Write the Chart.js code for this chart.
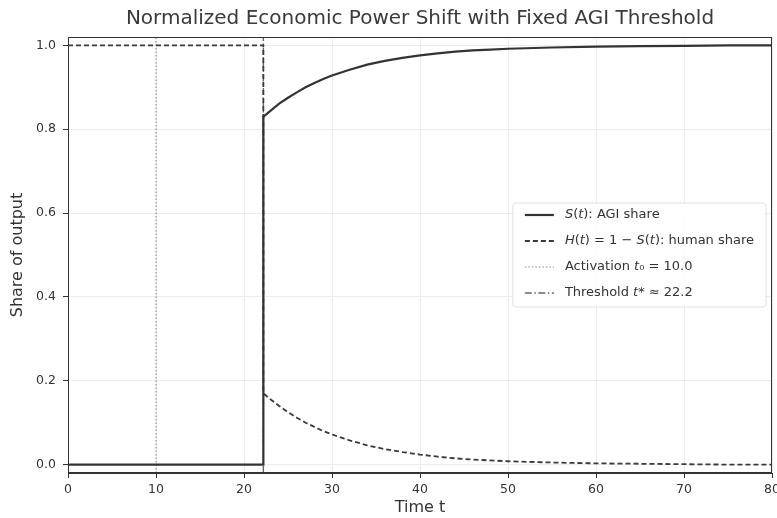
<!DOCTYPE html>
<html><head><meta charset="utf-8">
<script src="https://cdn.jsdelivr.net/npm/chart.js@4.4.0/dist/chart.umd.min.js"></script>
<style>html,body{margin:0;padding:0;background:#fff;}</style>
</head><body>
<canvas id="c" width="777" height="518"></canvas>
<script>
// ---- data ----
const times      = [0, 22.2, 22.2, 23, 24, 25, 26, 27, 28, 29, 30, 32, 34, 36, 38, 40, 42, 44, 46, 48, 50, 55, 60, 65, 70, 75, 80];
const agiShare   = [0, 0, 0.830, 0.844, 0.861, 0.875, 0.888, 0.900, 0.910, 0.920, 0.928, 0.942, 0.954, 0.963, 0.970, 0.976, 0.981, 0.985, 0.988, 0.990, 0.992, 0.995, 0.997, 0.998, 0.999, 1.000, 1.000];
const humanShare = [1, 1, 0.170, 0.156, 0.140, 0.125, 0.112, 0.100, 0.090, 0.080, 0.072, 0.058, 0.046, 0.037, 0.030, 0.024, 0.019, 0.015, 0.012, 0.010, 0.008, 0.005, 0.003, 0.002, 0.001, 0.000, 0.000];
const activationT = 10.0;
const thresholdT  = 22.2;
const xLimits = [0, 80];
const yLimits = [-0.02, 1.02];
const xTicks = [0, 10, 20, 30, 40, 50, 60, 70, 80];
const yTicks = [0.0, 0.2, 0.4, 0.6, 0.8, 1.0];
const seriesLabels = ["S(t): AGI share", "H(t) = 1 \u2212 S(t): human share", "Activation t\u2080 = 10.0", "Threshold t* \u2248 22.2"];
const titleText = "Normalized Economic Power Shift with Fixed AGI Threshold";
const xTitle = "Time t";
const yTitle = "Share of output";

const FONT = "'DejaVu Sans', sans-serif";
const TXT = '#333333';

const pts = (xs, ys) => xs.map((x, i) => ({x: x, y: ys[i]}));

// split text into runs; isolated single letters (math symbols) are italic
function runs(s) {
  const out = [];
  const isL = c => /[A-Za-z]/.test(c || '');
  for (let i = 0; i < s.length; i++) {
    const it = isL(s[i]) && !isL(s[i - 1]) && !isL(s[i + 1]);
    if (out.length && out[out.length - 1].it === it) out[out.length - 1].t += s[i];
    else out.push({t: s[i], it: it});
  }
  return out;
}
function mixedWidth(ctx, s, size) {
  let w = 0;
  runs(s).forEach(r => { ctx.font = (r.it ? 'italic ' : '') + size + 'px ' + FONT; w += ctx.measureText(r.t).width; });
  return w;
}
function drawMixed(ctx, s, x, y, size) {
  runs(s).forEach(r => {
    ctx.font = (r.it ? 'italic ' : '') + size + 'px ' + FONT;
    ctx.fillText(r.t, x, y);
    x += ctx.measureText(r.t).width;
  });
}

const frameLegend = {
  id: 'frameLegend',
  afterDatasetsDraw(chart) {
    const {ctx, chartArea: a} = chart;
    ctx.save();
    ctx.strokeStyle = '#333';
    ctx.lineWidth = 1;
    ctx.strokeRect(Math.round(a.left) + 0.5, Math.round(a.top) + 0.5, Math.round(a.right - a.left) - 1, Math.round(a.bottom - a.top) - 1);
    const size = 13;
    const ds = chart.data.datasets;
    let maxW = 0;
    ds.forEach(d => { maxW = Math.max(maxW, mixedWidth(ctx, d.label, size)); });
    const rowH = 26;
    const boxH = rowH * ds.length;
    const boxR = a.right - 6;
    const boxW = 52 + maxW + 12;
    const boxL = boxR - boxW;
    const boxT = (a.top + a.bottom) / 2 - boxH / 2;
    ctx.fillStyle = 'rgba(255,255,255,0.9)';
    ctx.strokeStyle = '#e0e0e0';
    ctx.beginPath();
    if (ctx.roundRect) ctx.roundRect(boxL, boxT, boxW, boxH, 3); else ctx.rect(boxL, boxT, boxW, boxH);
    ctx.fill(); ctx.stroke();
    ds.forEach((d, i) => {
      const y = boxT + 12 + i * rowH;
      ctx.strokeStyle = d.borderColor;
      ctx.lineWidth = d.borderWidth;
      ctx.setLineDash(d.borderDash || []);
      ctx.beginPath();
      ctx.moveTo(boxL + 12, y); ctx.lineTo(boxL + 41, y);
      ctx.stroke();
      ctx.setLineDash([]);
      ctx.fillStyle = TXT;
      ctx.textBaseline = 'middle';
      ctx.textAlign = 'left';
      drawMixed(ctx, d.label, boxL + 52, y, size);
    });
    ctx.restore();
  }
};

new Chart(document.getElementById('c'), {
  type: 'scatter',
  data: {
    datasets: [
      {label: seriesLabels[0], data: pts(times, agiShare), showLine: true, borderColor: '#333333', borderWidth: 2.2, pointRadius: 0, tension: 0, order: 1},
      {label: seriesLabels[1], data: pts(times, humanShare), showLine: true, borderColor: '#3a3a3a', borderWidth: 1.8, borderDash: [5, 3], pointRadius: 0, tension: 0, order: 2},
      {label: seriesLabels[2], data: pts([activationT, activationT], yLimits), showLine: true, borderColor: '#8a8a8a', borderWidth: 1.1, borderDash: [1.5, 2], pointRadius: 0, order: 3},
      {label: seriesLabels[3], data: pts([thresholdT, thresholdT], yLimits), showLine: true, borderColor: '#666666', borderWidth: 1.4, borderDash: [7, 2.5, 1.5, 2.5], pointRadius: 0, order: 4}
    ]
  },
  options: {
    responsive: false,
    animation: false,
    devicePixelRatio: 1,
    layout: {padding: {left: 0, right: 5, top: 0, bottom: 0}},
    plugins: {
      legend: {display: false},
      tooltip: {enabled: false},
      title: {display: true, fullSize: false, text: titleText, color: '#3a3a3a', font: {family: FONT, size: 20, weight: 'normal'}, padding: {top: 7, bottom: 6}}
    },
    scales: {
      x: {
        type: 'linear', min: xLimits[0], max: xLimits[1],
        afterBuildTicks: s => { s.ticks = xTicks.map(v => ({value: v})); },
        afterFit: s => { s.height = 45; s.paddingLeft = 0; s.paddingRight = 0; },
        ticks: {color: TXT, font: {family: FONT, size: 12.5}, padding: 4, maxRotation: 0, autoSkip: false, callback: v => String(v)},
        grid: {color: '#ebebeb', lineWidth: 1, tickLength: 5, tickColor: '#333', drawTicks: true},
        border: {color: '#333', width: 1},
        title: {display: true, text: xTitle, color: TXT, font: {family: FONT, size: 16}, padding: {top: 0, bottom: 1}}
      },
      y: {
        type: 'linear', min: yLimits[0], max: yLimits[1],
        afterBuildTicks: s => { s.ticks = yTicks.map(v => ({value: v})); },
        afterFit: s => { s.width = 68; s.paddingTop = 0; s.paddingBottom = 0; },
        ticks: {color: TXT, font: {family: FONT, size: 12.5}, padding: 7, autoSkip: false, callback: v => Number(v).toFixed(1)},
        grid: {color: '#ebebeb', lineWidth: 1, tickLength: 5, tickColor: '#333', drawTicks: true},
        border: {color: '#333', width: 1},
        title: {display: true, text: yTitle, color: TXT, font: {family: FONT, size: 16}, padding: {top: 8, bottom: 0}}
      }
    }
  },
  plugins: [frameLegend]
});
</script>
</body></html>
